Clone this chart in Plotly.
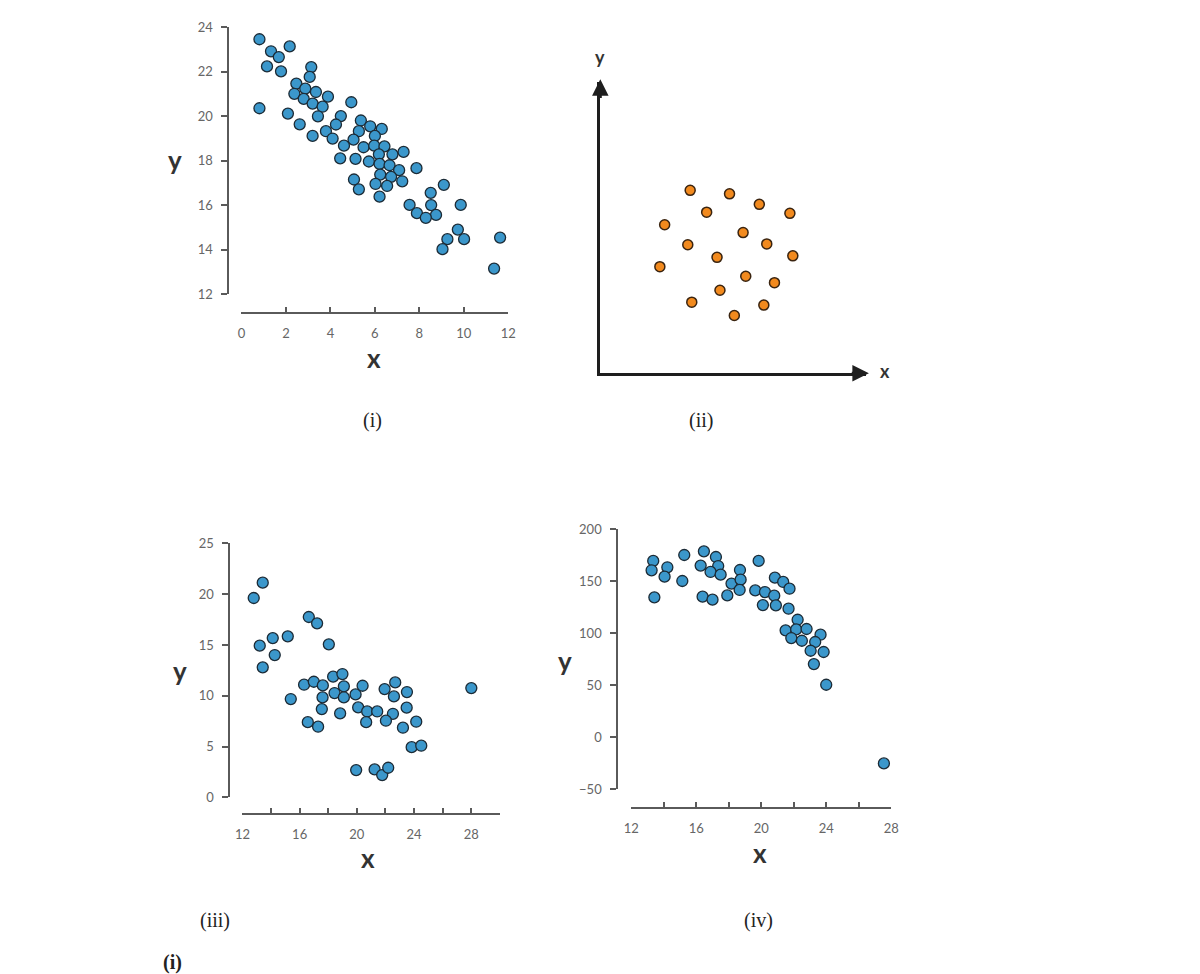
import plotly.graph_objects as go

W, H = 1200, 974
# the page photo lands the figure slightly inset and scaled; these undo that
OFF_X, OFF_Y, SCALE_X, SCALE_Y = 15.5, 16.0, 0.987, 0.983

# (i) strong negative correlation
x1 = [0.81, 2.17, 1.33, 1.68, 1.15, 1.78, 3.14, 3.07, 2.47, 2.87, 2.38, 3.35, 2.80, 3.89,
      3.20, 3.65, 4.94, 0.81, 2.09, 3.44, 4.47, 2.62, 4.25, 5.37, 5.79, 6.31, 3.80, 5.28,
      3.20, 6.00, 4.10, 5.04, 4.61, 5.49, 5.97, 6.43, 6.18, 6.79, 7.29, 4.44, 5.13, 5.73,
      6.21, 6.66, 7.87, 7.09, 6.24, 6.73, 5.06, 7.23, 6.03, 6.55, 9.10, 5.28, 6.21, 8.51,
      7.56, 8.53, 9.86, 7.89, 8.75, 8.29, 9.73, 9.26, 10.01, 11.63, 9.04, 11.36]
y1 = [23.45, 23.13, 22.91, 22.65, 22.23, 22.01, 22.20, 21.76, 21.46, 21.23, 21.00, 21.08,
      20.77, 20.87, 20.56, 20.42, 20.62, 20.35, 20.11, 19.99, 20.00, 19.63, 19.62, 19.80,
      19.54, 19.42, 19.32, 19.32, 19.11, 19.11, 18.99, 18.94, 18.67, 18.60, 18.67, 18.64,
      18.28, 18.28, 18.39, 18.10, 18.08, 17.96, 17.85, 17.79, 17.66, 17.57, 17.37, 17.27,
      17.15, 17.07, 16.95, 16.86, 16.91, 16.71, 16.38, 16.55, 16.01, 16.00, 16.01, 15.64,
      15.56, 15.43, 14.90, 14.47, 14.47, 14.54, 14.02, 13.15]

# (ii) no correlation
x2 = [3.38, 4.86, 5.98, 4.00, 7.13, 2.42, 5.37, 3.29, 6.26, 4.39, 7.24, 2.24, 5.47, 6.55,
      4.50, 3.44, 6.15, 5.04]
y2 = [6.28, 6.16, 5.80, 5.53, 5.49, 5.10, 4.83, 4.41, 4.44, 3.98, 4.03, 3.66, 3.33, 3.11,
      2.85, 2.44, 2.34, 1.98]

# (iii) weak negative with outlier
x3 = [12.79, 13.42, 13.21, 14.12, 14.26, 13.42, 15.17, 15.38, 16.64, 17.22, 18.04, 16.31,
      16.99, 17.62, 17.60, 17.55, 16.57, 17.29, 18.34, 18.99, 18.44, 19.09, 19.09, 18.83,
      19.91, 20.40, 20.09, 20.72, 21.42, 20.65, 21.94, 22.68, 22.59, 22.52, 22.03, 23.50,
      23.48, 23.22, 24.15, 23.83, 24.50, 19.95, 21.24, 21.77, 22.19, 28.00]
y3 = [19.62, 21.13, 14.93, 15.68, 14.01, 12.80, 15.85, 9.68, 17.75, 17.13, 15.06, 11.09,
      11.38, 11.02, 9.84, 8.69, 7.41, 6.96, 11.88, 12.14, 10.27, 10.93, 9.84, 8.27, 10.14,
      10.99, 8.86, 8.46, 8.46, 7.41, 10.66, 11.32, 9.94, 8.23, 7.55, 10.37, 8.83, 6.86,
      7.45, 4.95, 5.09, 2.69, 2.76, 2.20, 2.92, 10.76]

# (iv) curved relationship
x4 = [13.35, 13.25, 13.42, 14.22, 14.05, 15.26, 15.14, 16.47, 16.27, 16.39, 17.21, 17.35,
      16.88, 17.50, 17.00, 17.91, 18.17, 18.69, 18.73, 18.67, 19.84, 19.63, 20.23, 20.10,
      20.80, 20.90, 20.84, 21.35, 21.74, 21.68, 22.24, 21.50, 22.15, 21.85, 22.79, 22.50,
      23.65, 23.32, 23.04, 23.84, 23.24, 24.00, 27.55]
y4 = [169.6, 160.6, 134.6, 163.5, 154.5, 175.3, 150.3, 178.8, 165.1, 135.3, 173.4, 164.7,
      159.0, 156.4, 132.4, 136.5, 147.8, 160.9, 151.6, 141.7, 169.6, 141.3, 139.7, 127.2,
      136.2, 126.9, 153.5, 149.4, 142.9, 123.7, 113.1, 102.9, 103.8, 95.5, 104.2, 92.9,
      98.7, 91.7, 83.3, 82.1, 70.5, 50.6, -25.0]

ticks1_x = [0, 2, 4, 6, 8, 10, 12]
ticks1_y = [12, 14, 16, 18, 20, 22, 24]
ticks3_x = list(range(12, 31, 2))
ticks3_y = [0, 5, 10, 15, 20, 25]
ticks4_x = list(range(12, 29, 2))
ticks4_y = [-50, 0, 50, 100, 150, 200]

BLUE = '#3b97cb'
ORANGE = '#f28a1e'
AX = '#5a5a5a'


# screen pixel -> paper fraction
def px(v):
    return (v - OFF_X) / SCALE_X / W


def py(v):
    return 1 - (v - OFF_Y) / SCALE_Y / H


def sparse(vals, every):
    return [str(v) if (v - vals[0]) % every == 0 else '' for v in vals]


tick_font = dict(family='Lato, sans-serif', size=13, color='#666')

fig = go.Figure()
dot = dict(color=BLUE, size=11, line=dict(color='#1c2b36', width=1.3))
fig.add_trace(go.Scatter(x=x1, y=y1, mode='markers', marker=dot, xaxis='x', yaxis='y', cliponaxis=False))
fig.add_trace(go.Scatter(x=x2, y=y2, mode='markers', xaxis='x2', yaxis='y2', cliponaxis=False,
                         marker=dict(color=ORANGE, size=10, line=dict(color='#3a2410', width=1.5))))
fig.add_trace(go.Scatter(x=x3, y=y3, mode='markers', marker=dot, xaxis='x3', yaxis='y3', cliponaxis=False))
fig.add_trace(go.Scatter(x=x4, y=y4, mode='markers', marker=dot, xaxis='x4', yaxis='y4', cliponaxis=False))


def xax(domain, rng, vals, text, pos):
    return dict(domain=domain, range=rng, anchor='free', position=pos, tickvals=vals, ticktext=text,
                ticks='inside', ticklen=5, tickwidth=2, tickcolor=AX, showline=True, linecolor=AX,
                linewidth=2, showgrid=False, zeroline=False, tickfont=tick_font, ticklabelstandoff=8)


def yax(domain, rng, vals, pos):
    return dict(domain=domain, range=rng, anchor='free', position=pos, tickvals=vals,
                ticks='outside', ticklen=6, tickwidth=2, tickcolor=AX, showline=True, linecolor=AX,
                linewidth=2, showgrid=False, zeroline=False, tickfont=tick_font, ticklabelstandoff=6)


fig.update_layout(
    width=W, height=H,
    margin=dict(l=0, r=0, t=0, b=0),
    paper_bgcolor='white', plot_bgcolor='rgba(0,0,0,0)',
    showlegend=False,
    xaxis=xax([px(241), px(508)], [0, 12], ticks1_x, [str(v) for v in ticks1_x], py(313)),
    yaxis=yax([py(294), py(27)], [12, 24], ticks1_y, px(228)),
    xaxis3=xax([px(242), px(499.6)], [12, 30], ticks3_x, sparse(ticks3_x, 4), py(814)),
    yaxis3=yax([py(797), py(543)], [0, 25], ticks3_y, px(229)),
    xaxis4=xax([px(631), px(891)], [12, 28], ticks4_x, sparse(ticks4_x, 4), py(808)),
    yaxis4=yax([py(789), py(529)], [-50, 200], ticks4_y, px(617)),
    xaxis2=dict(domain=[px(600), px(866)], range=[0, 10], anchor='y2', showline=True, linecolor='#1e1e1e',
                linewidth=3, showticklabels=False, ticks='', showgrid=False, zeroline=False),
    yaxis2=dict(domain=[py(373), py(82)], range=[0, 10], anchor='x2', showline=True, linecolor='#1e1e1e',
                linewidth=3, showticklabels=False, ticks='', showgrid=False, zeroline=False),
)

# arrowheads on the (ii) axes
for tip, tail in [((10.1, 0), (9.4, 0)), ((0, 10.1), (0, 9.4))]:
    fig.add_annotation(x=tip[0], y=tip[1], ax=tail[0], ay=tail[1], xref='x2', yref='y2',
                       axref='x2', ayref='y2', showarrow=True, arrowhead=2, arrowsize=1.1,
                       arrowwidth=3, arrowcolor='#1e1e1e', text='')


def label(text, lx, ly, font):
    fig.add_annotation(x=px(lx), y=py(ly), xref='paper', yref='paper', text=text, showarrow=False,
                       xanchor='center', yanchor='middle', font=font)


axis_font = dict(family='Lato, sans-serif', size=26, color='#333', weight='bold')
for t, lx, ly in [('y', 175, 160), ('x', 374, 358), ('y', 180, 671), ('x', 368, 858),
                  ('y', 565, 661), ('x', 760, 853)]:
    label(t, lx, ly, axis_font)

small_font = dict(family='Lato, sans-serif', size=18, color='#333', weight='bold')
label('y', 600, 57, small_font)
label('x', 885, 371, small_font)

cap_font = dict(family='Liberation Serif, Times New Roman, serif', size=20, color='#222')
for t, lx, ly in [('(i)', 372, 420), ('(ii)', 701, 420), ('(iii)', 215, 920), ('(iv)', 758, 920)]:
    label(t, lx, ly, cap_font)
label('<b>(i)</b>', 172, 962, cap_font)

# thin right page edge
fig.add_shape(type='line', xref='paper', yref='paper', x0=px(1198), x1=px(1198), y0=0, y1=1,
              line=dict(color='#d4d4d4', width=2))

fig.write_html("out.html")
